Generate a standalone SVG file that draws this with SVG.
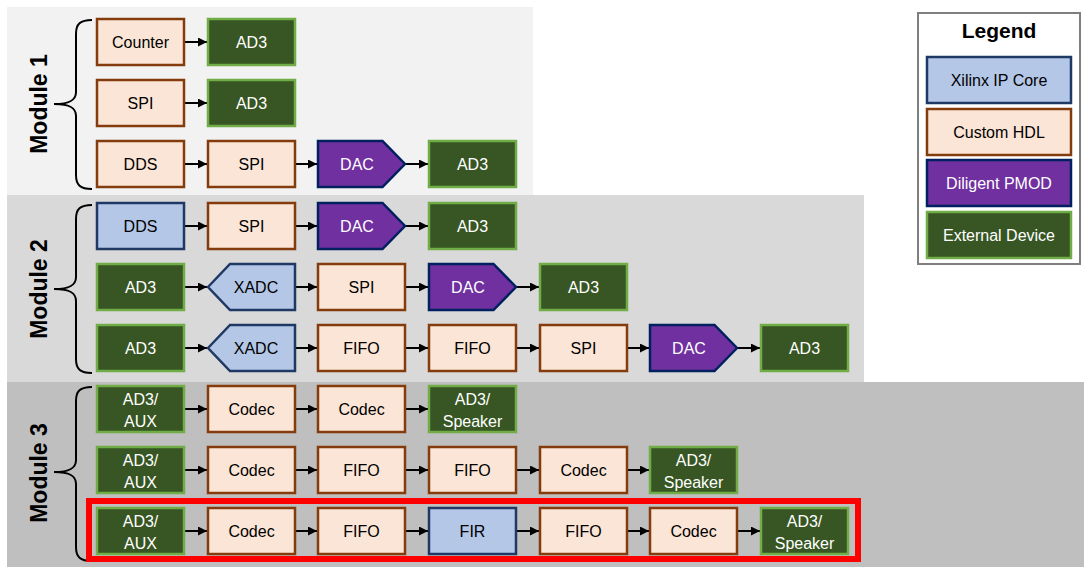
<svg xmlns="http://www.w3.org/2000/svg" width="1091" height="572" viewBox="0 0 1091 572">
<style>
.t{font-family:"Liberation Sans",Arial,sans-serif;font-size:16px;text-anchor:middle;fill:#000}
.w{fill:#fff}
.ip{fill:#b4c7e7;stroke:#1f3864;stroke-width:2.5}
.hdl{fill:#fbe5d6;stroke:#843c0c;stroke-width:2.5}
.pm{fill:#7030a0;stroke:#002060;stroke-width:2.5}
.ex{fill:#375623;stroke:#70ad47;stroke-width:2.5}
.mod{font-family:"Liberation Sans",Arial,sans-serif;font-size:23px;font-weight:bold;text-anchor:middle}
.br{fill:none;stroke:#000;stroke-width:2}
.c line{stroke:#000;stroke-width:2;marker-end:url(#ah)}
</style>
<defs>
<marker id="ah" viewBox="0 0 10 10" refX="10" refY="5" markerWidth="9" markerHeight="9" markerUnits="userSpaceOnUse" orient="auto"><path d="M0,0 L10,5 L0,10 z" fill="#000"/></marker>
</defs>
<rect width="1091" height="572" fill="#fff"/>
<g id="bands">
<rect x="7" y="7" width="526" height="188" fill="#f2f2f2"/>
<rect x="7" y="195" width="857" height="187" fill="#d9d9d9"/>
<rect x="7" y="382" width="1077" height="185" fill="#bfbfbf"/>
</g>
<g id="modules">
<text class="mod" transform="translate(47,104) rotate(-90)">Module 1</text>
<text class="mod" transform="translate(47,289) rotate(-90)">Module 2</text>
<text class="mod" transform="translate(47,473) rotate(-90)">Module 3</text>
<path class="br" d="M92,20 C80,20 76,24 76,34 L76,92 C76,100 70,104 54,104 C70,104 76,108 76,116 L76,175 C76,185 80,189 92,189"/>
<path class="br" d="M92,205 C80,205 76,209 76,219 L76,277 C76,285 70,289 54,289 C70,289 76,293 76,301 L76,359 C76,369 80,373 92,373"/>
<path class="br" d="M92,387 C80,387 76,391 76,401 L76,460 C76,468 70,472 54,472 C70,472 76,476 76,484 L76,547 C76,557 80,561 92,561"/>
</g>
<g id="highlight"><rect x="89" y="501" width="769" height="58" fill="none" stroke="#ff0000" stroke-width="6"/></g>
<g class="c" id="connectors">
<line x1="185" y1="42" x2="207" y2="42"/>
<line x1="185" y1="103" x2="207" y2="103"/>
<line x1="185" y1="164" x2="207" y2="164"/>
<line x1="296" y1="164" x2="317" y2="164"/>
<line x1="405" y1="164" x2="428" y2="164"/>
<line x1="185" y1="226" x2="207" y2="226"/>
<line x1="296" y1="226" x2="317" y2="226"/>
<line x1="405" y1="226" x2="428" y2="226"/>
<line x1="185" y1="287" x2="207" y2="287"/>
<line x1="296" y1="287" x2="317" y2="287"/>
<line x1="406" y1="287" x2="428" y2="287"/>
<line x1="516" y1="287" x2="539" y2="287"/>
<line x1="185" y1="348" x2="207" y2="348"/>
<line x1="296" y1="348" x2="317" y2="348"/>
<line x1="406" y1="348" x2="428" y2="348"/>
<line x1="517" y1="348" x2="539" y2="348"/>
<line x1="628" y1="348" x2="649" y2="348"/>
<line x1="737" y1="348" x2="760" y2="348"/>
<line x1="185" y1="409" x2="207" y2="409"/>
<line x1="296" y1="409" x2="317" y2="409"/>
<line x1="406" y1="409" x2="428" y2="409"/>
<line x1="185" y1="470" x2="207" y2="470"/>
<line x1="296" y1="470" x2="317" y2="470"/>
<line x1="406" y1="470" x2="428" y2="470"/>
<line x1="517" y1="470" x2="539" y2="470"/>
<line x1="628" y1="470" x2="649" y2="470"/>
<line x1="185" y1="531" x2="207" y2="531"/>
<line x1="296" y1="531" x2="317" y2="531"/>
<line x1="406" y1="531" x2="428" y2="531"/>
<line x1="517" y1="531" x2="539" y2="531"/>
<line x1="628" y1="531" x2="649" y2="531"/>
<line x1="738" y1="531" x2="760" y2="531"/>
</g>
<!-- Module 1 -->
<g id="m1r1n1"><rect class="hdl" x="97" y="19" width="87" height="46"/><text class="t" x="140.5" y="48">Counter</text></g>
<g id="m1r1n2"><rect class="ex" x="208" y="19" width="87" height="46"/><text class="t w" x="251.5" y="48">AD3</text></g>
<g id="m1r2n1"><rect class="hdl" x="97" y="80" width="87" height="46"/><text class="t" x="140.5" y="109">SPI</text></g>
<g id="m1r2n2"><rect class="ex" x="208" y="80" width="87" height="46"/><text class="t w" x="251.5" y="109">AD3</text></g>
<g id="m1r3n1"><rect class="hdl" x="97" y="141" width="87" height="46"/><text class="t" x="140.5" y="170">DDS</text></g>
<g id="m1r3n2"><rect class="hdl" x="208" y="141" width="87" height="46"/><text class="t" x="251.5" y="170">SPI</text></g>
<g id="m1r3n3"><polygon class="pm" points="318,141 382.5,141 405,164 382.5,187 318,187"/><text class="t w" x="357" y="170">DAC</text></g>
<g id="m1r3n4"><rect class="ex" x="429" y="141" width="87" height="46"/><text class="t w" x="472.5" y="170">AD3</text></g>
<!-- Module 2 -->
<g id="m2r1n1"><rect class="ip" x="97" y="203" width="87" height="46"/><text class="t" x="140.5" y="232">DDS</text></g>
<g id="m2r1n2"><rect class="hdl" x="208" y="203" width="87" height="46"/><text class="t" x="251.5" y="232">SPI</text></g>
<g id="m2r1n3"><polygon class="pm" points="318,203 382.5,203 405,226 382.5,249 318,249"/><text class="t w" x="357" y="232">DAC</text></g>
<g id="m2r1n4"><rect class="ex" x="429" y="203" width="87" height="46"/><text class="t w" x="472.5" y="232">AD3</text></g>
<g id="m2r2n1"><rect class="ex" x="97" y="264" width="87" height="46"/><text class="t w" x="140.5" y="293">AD3</text></g>
<g id="m2r2n2"><polygon class="ip" points="208,287 230,264 295,264 295,310 230,310"/><text class="t" x="256" y="293">XADC</text></g>
<g id="m2r2n3"><rect class="hdl" x="318" y="264" width="87" height="46"/><text class="t" x="361.5" y="293">SPI</text></g>
<g id="m2r2n4"><polygon class="pm" points="429,264 493.5,264 516,287 493.5,310 429,310"/><text class="t w" x="468" y="293">DAC</text></g>
<g id="m2r2n5"><rect class="ex" x="540" y="264" width="87" height="46"/><text class="t w" x="583.5" y="293">AD3</text></g>
<g id="m2r3n1"><rect class="ex" x="97" y="325" width="87" height="46"/><text class="t w" x="140.5" y="354">AD3</text></g>
<g id="m2r3n2"><polygon class="ip" points="208,348 230,325 295,325 295,371 230,371"/><text class="t" x="256" y="354">XADC</text></g>
<g id="m2r3n3"><rect class="hdl" x="318" y="325" width="87" height="46"/><text class="t" x="361.5" y="354">FIFO</text></g>
<g id="m2r3n4"><rect class="hdl" x="429" y="325" width="87" height="46"/><text class="t" x="472.5" y="354">FIFO</text></g>
<g id="m2r3n5"><rect class="hdl" x="540" y="325" width="87" height="46"/><text class="t" x="583.5" y="354">SPI</text></g>
<g id="m2r3n6"><polygon class="pm" points="650,325 714.5,325 737,348 714.5,371 650,371"/><text class="t w" x="689" y="354">DAC</text></g>
<g id="m2r3n7"><rect class="ex" x="761" y="325" width="87" height="46"/><text class="t w" x="804.5" y="354">AD3</text></g>
<!-- Module 3 -->
<g id="m3r1n1"><rect class="ex" x="97" y="386" width="87" height="46"/><text class="t w" x="140.5" y="405">AD3/</text><text class="t w" x="140.5" y="427">AUX</text></g>
<g id="m3r1n2"><rect class="hdl" x="208" y="386" width="87" height="46"/><text class="t" x="251.5" y="415">Codec</text></g>
<g id="m3r1n3"><rect class="hdl" x="318" y="386" width="87" height="46"/><text class="t" x="361.5" y="415">Codec</text></g>
<g id="m3r1n4"><rect class="ex" x="429" y="386" width="87" height="46"/><text class="t w" x="472.5" y="405">AD3/</text><text class="t w" x="472.5" y="427">Speaker</text></g>
<g id="m3r2n1"><rect class="ex" x="97" y="447" width="87" height="46"/><text class="t w" x="140.5" y="466">AD3/</text><text class="t w" x="140.5" y="488">AUX</text></g>
<g id="m3r2n2"><rect class="hdl" x="208" y="447" width="87" height="46"/><text class="t" x="251.5" y="476">Codec</text></g>
<g id="m3r2n3"><rect class="hdl" x="318" y="447" width="87" height="46"/><text class="t" x="361.5" y="476">FIFO</text></g>
<g id="m3r2n4"><rect class="hdl" x="429" y="447" width="87" height="46"/><text class="t" x="472.5" y="476">FIFO</text></g>
<g id="m3r2n5"><rect class="hdl" x="540" y="447" width="87" height="46"/><text class="t" x="583.5" y="476">Codec</text></g>
<g id="m3r2n6"><rect class="ex" x="650" y="447" width="87" height="46"/><text class="t w" x="693.5" y="466">AD3/</text><text class="t w" x="693.5" y="488">Speaker</text></g>
<g id="m3r3n1"><rect class="ex" x="97" y="508" width="87" height="46"/><text class="t w" x="140.5" y="527">AD3/</text><text class="t w" x="140.5" y="549">AUX</text></g>
<g id="m3r3n2"><rect class="hdl" x="208" y="508" width="87" height="46"/><text class="t" x="251.5" y="537">Codec</text></g>
<g id="m3r3n3"><rect class="hdl" x="318" y="508" width="87" height="46"/><text class="t" x="361.5" y="537">FIFO</text></g>
<g id="m3r3n4"><rect class="ip" x="429" y="508" width="87" height="46"/><text class="t" x="472.5" y="537">FIR</text></g>
<g id="m3r3n5"><rect class="hdl" x="540" y="508" width="87" height="46"/><text class="t" x="583.5" y="537">FIFO</text></g>
<g id="m3r3n6"><rect class="hdl" x="650" y="508" width="87" height="46"/><text class="t" x="693.5" y="537">Codec</text></g>
<g id="m3r3n7"><rect class="ex" x="761" y="508" width="87" height="46"/><text class="t w" x="804.5" y="527">AD3/</text><text class="t w" x="804.5" y="549">Speaker</text></g>
<!-- Legend -->
<g id="legend">
<rect x="918" y="13" width="162" height="251" fill="#fff" stroke="#7f7f7f" stroke-width="2"/>
<text class="t" x="999" y="38" style="font-size:21px;font-weight:bold">Legend</text>
<rect class="ip" x="927" y="57" width="144" height="46"/><text class="t" x="999" y="86">Xilinx IP Core</text>
<rect class="hdl" x="927" y="109" width="144" height="46"/><text class="t" x="999" y="138">Custom HDL</text>
<rect class="pm" x="927" y="160" width="144" height="46"/><text class="t w" x="999" y="189">Diligent PMOD</text>
<rect class="ex" x="927" y="212" width="144" height="46"/><text class="t w" x="999" y="241">External Device</text>
</g>
</svg>
